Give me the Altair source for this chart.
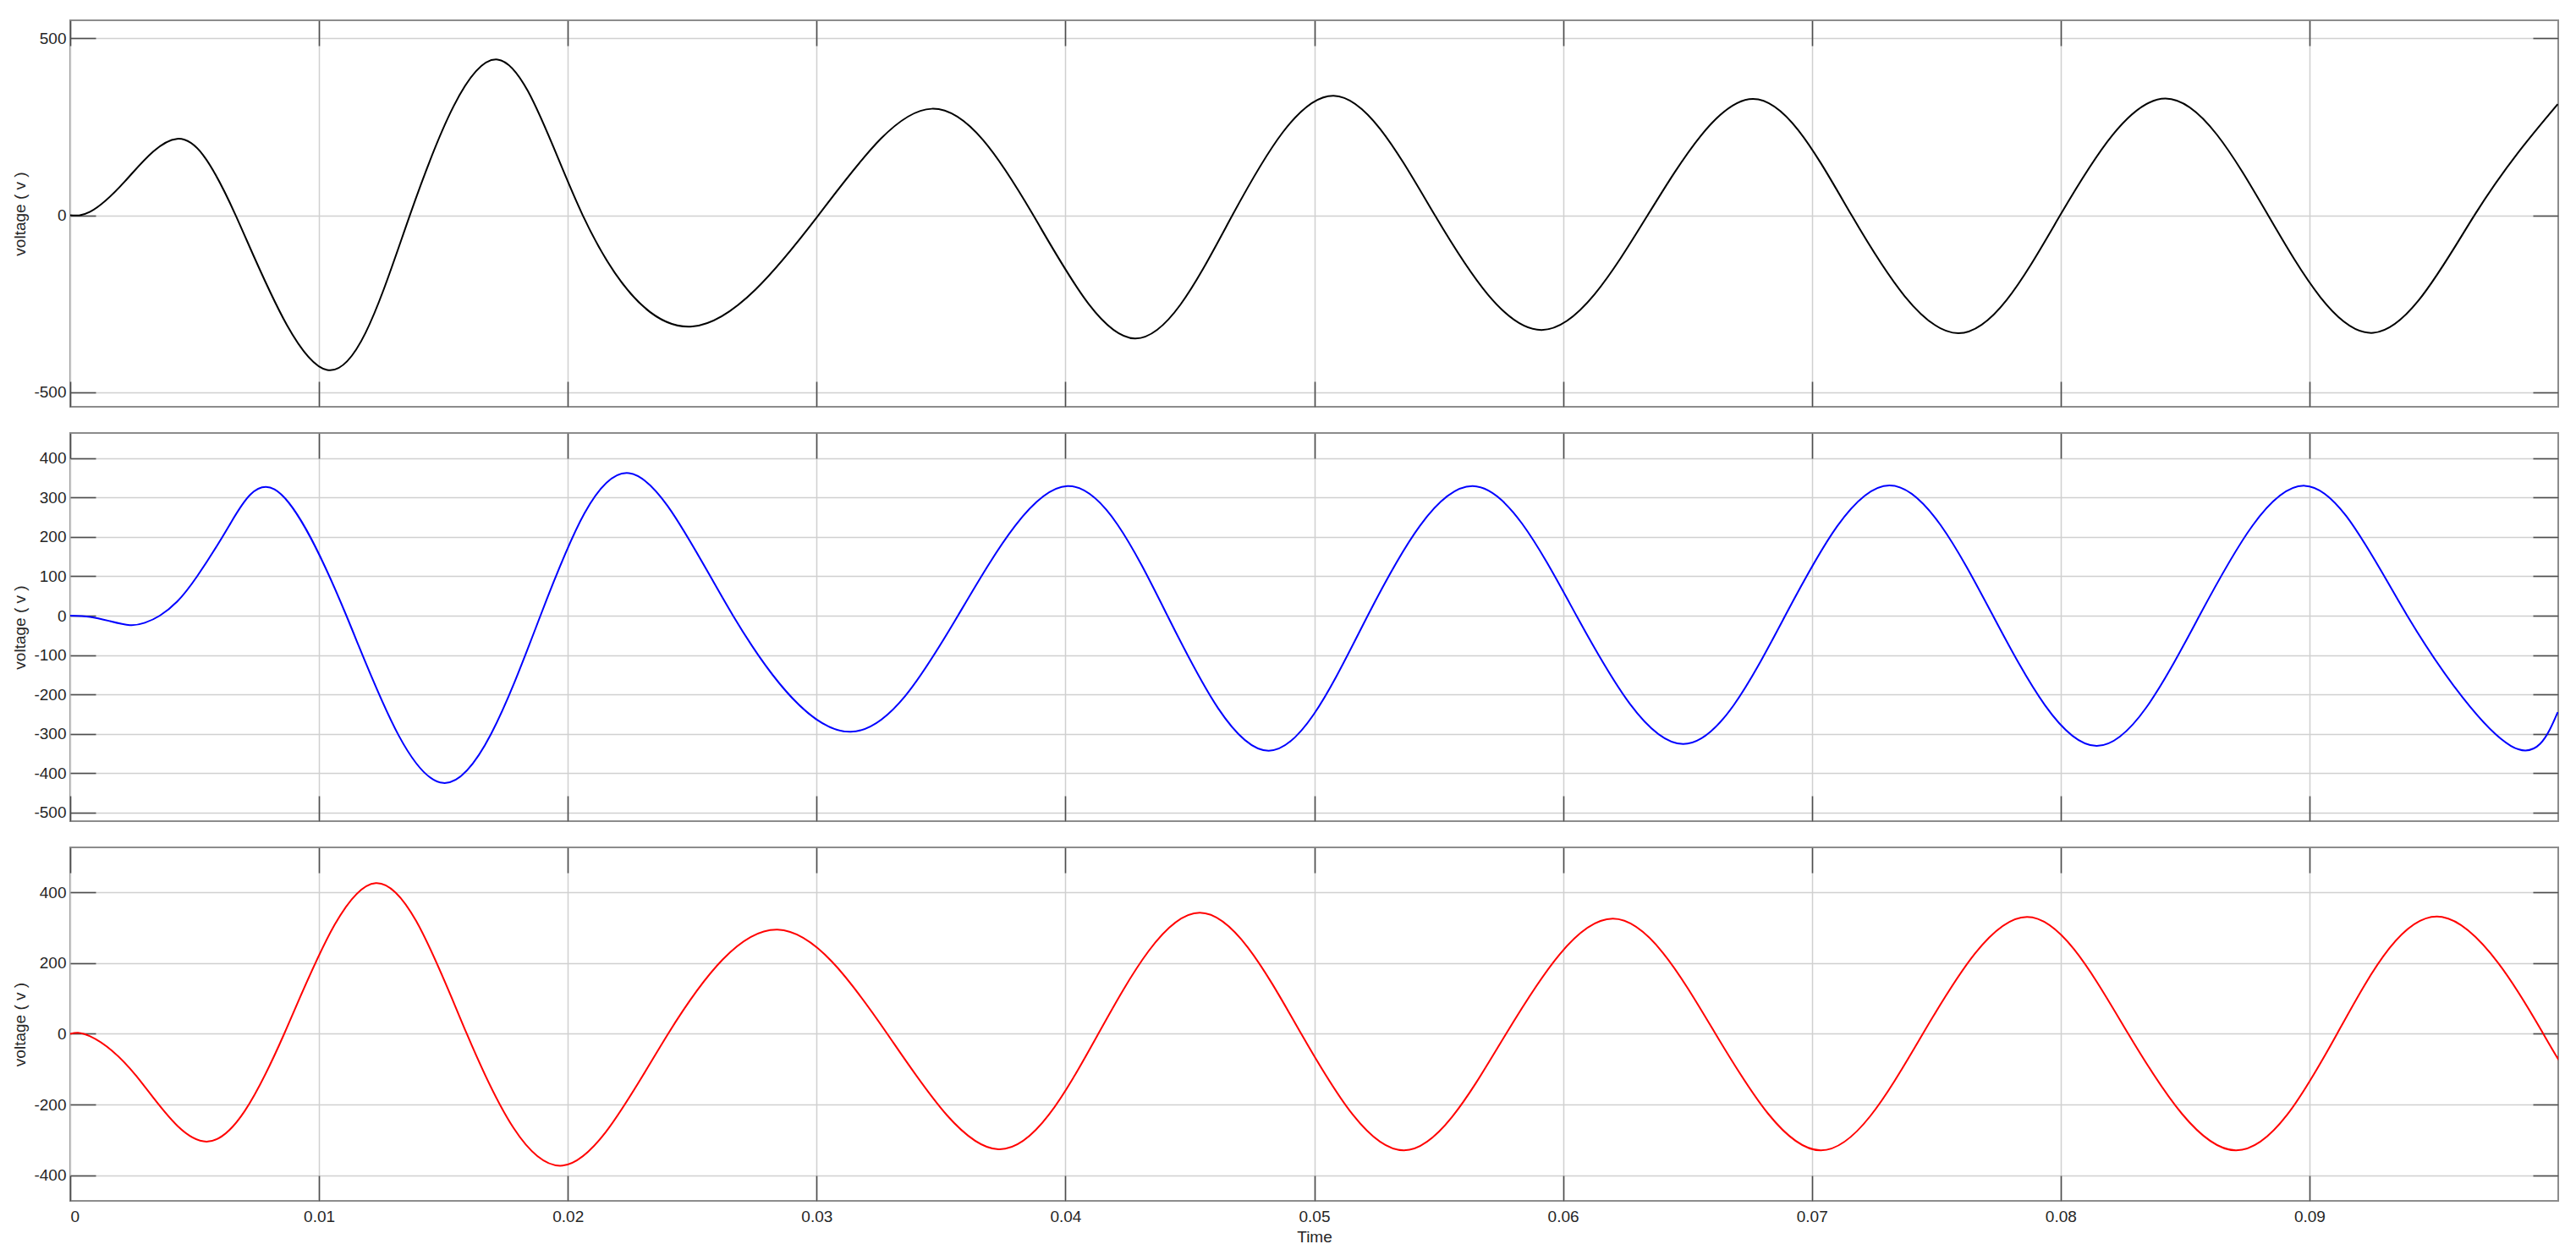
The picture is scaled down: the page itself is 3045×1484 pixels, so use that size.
import altair as alt
import pandas as pd

# ---- data (time in s, voltage in V) ----
t1 = [0, 0.0008, 0.0022, 0.00429, 0.00665, 0.01033, 0.01365, 0.01718, 0.0206, 0.02501,
      0.03007, 0.03463, 0.03871, 0.04279, 0.04671, 0.05078, 0.05485, 0.05914, 0.0634,
      0.06763, 0.0716, 0.07589, 0.07998, 0.08421, 0.08834, 0.09257, 0.09663, 0.09998]
v1 = [0, 10, 96, 216, 0, -437, 0, 440, 0, -314,
      0, 301, 0, -348, 0, 338, 0, -324, 0,
      329, 0, -333, 0, 330, 0, -332, 0, 314]

t2 = [0, 0.0008, 0.0016, 0.0024, 0.0030, 0.0036, 0.0043, 0.0051, 0.0064, 0.00821,
      0.0111, 0.015, 0.0189,
      0.02246, 0.02664, 0.03137, 0.03568, 0.04008, 0.0441, 0.04817, 0.05215, 0.05637,
      0.06054, 0.06483, 0.06893, 0.07312, 0.07728, 0.08145, 0.08558, 0.08981, 0.09393,
      0.0981, 0.09998]
v2 = [0, -3, -14, -24, -18, 0, 36, 100, 230, 321,
      0, -425, 0,
      362, 0, -295, 0, 329, 0, -343, 0, 329,
      0, -326, 0, 331, 0, -331, 0, 330, 0,
      -331, -245]

t3 = [0, 0.0008, 0.0027, 0.00553, 0.0086, 0.01228, 0.01594, 0.01979, 0.02403,
      0.02843, 0.03284, 0.03731, 0.04132, 0.0454, 0.04948, 0.05361, 0.05771, 0.062,
      0.06613, 0.07036, 0.07446, 0.07865, 0.08272, 0.08704, 0.09111, 0.09533, 0.0994,
      0.09998]
v3 = [0, -7, -123, -305, 0, 427, 0, -373, 0,
      295, 0, -327, 0, 343, 0, -330, 0, 326,
      0, -330, 0, 331, 0, -330, 0, 331, 0,
      -64]

x_ticks = [0, 0.01, 0.02, 0.03, 0.04, 0.05, 0.06, 0.07, 0.08, 0.09]
y_ticks1 = [-500, 0, 500]
y_ticks2 = [-500, -400, -300, -200, -100, 0, 100, 200, 300, 400]
y_ticks3 = [-400, -200, 0, 200, 400]

y_dom1 = [-541, 551]
y_dom2 = [-522, 464]
y_dom3 = [-473, 528]

W = 2941
FONT = "Liberation Sans"
TICK_COLOR = "#4d4d4d"


def panel(t, v, color, ydom, yticks, height, bottom):
    df = pd.DataFrame({"t": t, "v": v})
    base = alt.Chart(df)
    xs = alt.Scale(domain=[0, 0.1], nice=False, zero=False)
    ys = alt.Scale(domain=ydom, nice=False, zero=False)

    main = base.mark_line(color=color, strokeWidth=2, interpolate="natural", clip=True).encode(
        x=alt.X("t:Q", scale=xs, title="Time" if bottom else None,
                axis=alt.Axis(values=x_ticks, orient="bottom", grid=True, ticks=False, tickSize=0,
                              domain=False, labels=bottom, format=".2~f",
                              labelPadding=9, titlePadding=5)),
        y=alt.Y("v:Q", scale=ys, title="voltage ( v )",
                axis=alt.Axis(values=yticks, orient="left", grid=True, ticks=False, tickSize=0,
                              domain=False, labelPadding=5, titlePadding=6,
                              labelExpr="'' + datum.value")),
    )

    def tick_axis(values, orient):
        return alt.Axis(values=values, orient=orient, grid=False, labels=False, domain=False,
                        ticks=True, tickSize=30, offset=-30, tickColor=TICK_COLOR,
                        tickWidth=1.6, title=None)

    inner_a = base.mark_line(strokeOpacity=0).encode(
        x=alt.X("t:Q", scale=xs, axis=tick_axis(x_ticks, "bottom")),
        y=alt.Y("v:Q", scale=ys, axis=tick_axis(yticks, "left")),
    )
    inner_b = base.mark_line(strokeOpacity=0).encode(
        x=alt.X("t:Q", scale=xs, axis=tick_axis(x_ticks, "top")),
        y=alt.Y("v:Q", scale=ys, axis=tick_axis(yticks, "right")),
    )
    return (
        alt.layer(main, inner_a, inner_b)
        .resolve_axis(x="independent", y="independent")
        .properties(width=W, height=height)
    )


p1 = panel(t1, v1, "#000000", y_dom1, y_ticks1, 457, False)
p2 = panel(t2, v2, "#0000ff", y_dom2, y_ticks2, 459, False)
p3 = panel(t3, v3, "#ff0000", y_dom3, y_ticks3, 418, True)

chart = (
    alt.vconcat(p1, p2, p3, spacing=31, bounds="flush")
    .properties(padding={"left": 5, "top": 14, "right": 5, "bottom": 5})
    .configure_view(stroke="#8c8c8c", strokeWidth=2)
    .configure_axis(
        labelFont=FONT, labelFontSize=19, labelColor="#262626",
        titleFont=FONT, titleFontSize=19, titleColor="#262626", titleFontWeight="normal",
        gridColor="#d0d0d0", gridWidth=1.5, gridOpacity=1,
    )
)

chart.save("out.html", embed_options={"renderer": "svg", "actions": False})
